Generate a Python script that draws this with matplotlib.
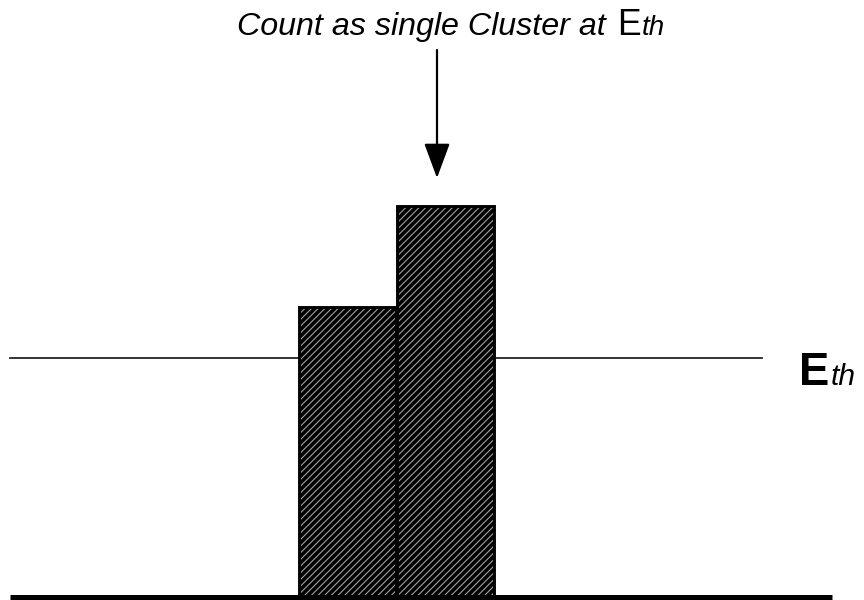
import matplotlib
matplotlib.use("Agg")
import matplotlib.pyplot as plt

plt.rcParams['font.family'] = ['Liberation Sans', 'DejaVu Sans']
plt.rcParams['hatch.linewidth'] = 1.0

# data (pixel-like units above the baseline)
bar_centers = [347, 445.5]
bar_heights = [290, 391]
bar_width = 97
threshold = 239
baseline_span = [10, 832]
threshold_segments = [(10, 298), (494, 762)]
arrow_x = 437
arrow_top = 547
arrow_tip = 419

DPI = 80
fig = plt.figure(figsize=(864 / DPI, 600 / DPI), dpi=DPI)
ax = fig.add_axes([0, 0, 1, 1])
ax.set_xlim(0, 864)
ax.set_ylim(-3, 597)
ax.axis('off')

ax.bar(bar_centers, bar_heights, width=bar_width, color='black',
       edgecolor='#a0a0a0', hatch='////', linewidth=0, zorder=2)
ax.bar(bar_centers, bar_heights, width=bar_width, fill=False,
       edgecolor='black', linewidth=2.6, zorder=3)

for x0, x1 in threshold_segments:
    ax.plot([x0, x1], [threshold, threshold], color='#222222', lw=1.6, zorder=1)

ax.plot(baseline_span, [0, 0], color='black', lw=4.5, solid_capstyle='butt', zorder=4)

ax.annotate('', xy=(arrow_x, arrow_tip), xytext=(arrow_x, arrow_top),
            arrowprops=dict(arrowstyle='-|>,head_width=1.0,head_length=2.7',
                            mutation_scale=10, color='black', lw=2,
                            shrinkA=0, shrinkB=0))

fig.canvas.draw()
renderer = fig.canvas.get_renderer()
inv = ax.transData.inverted()


def right_edge(t):
    bb = t.get_window_extent(renderer)
    return inv.transform((bb.x1, bb.y0))[0]


t1 = ax.text(237, 562, 'Count as single Cluster at', fontsize=29, style='italic',
             ha='left', va='baseline')
t2 = ax.text(617, 562, 'E', fontsize=32, ha='left', va='baseline')
ax.text(right_edge(t2) + 1, 562, 'th', fontsize=25, style='italic', ha='left', va='baseline')

t3 = ax.text(799, 212, 'E', fontsize=41, fontweight='bold', ha='left', va='baseline')
ax.text(right_edge(t3) + 1, 212, 'th', fontsize=27, style='italic', ha='left', va='baseline')

fig.savefig('out.png', dpi=DPI)
